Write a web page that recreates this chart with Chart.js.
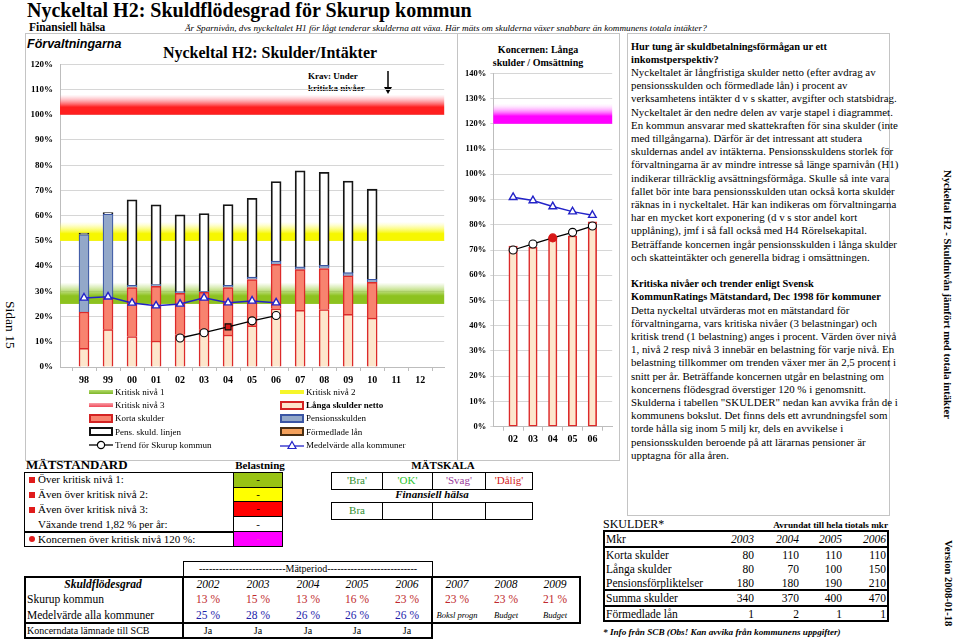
<!DOCTYPE html>
<html lang="sv"><head><meta charset="utf-8">
<script src="https://cdn.jsdelivr.net/npm/chart.js@4.4.1/dist/chart.umd.min.js"></script>
<style>
html,body{margin:0;padding:0;background:#fff}
body{width:960px;height:640px;position:relative;overflow:hidden;font-family:"Liberation Serif","Times New Roman",serif;color:#000}
.a{position:absolute;white-space:nowrap}
.box{position:absolute;border:1px solid #c4c4c4;box-sizing:border-box}
.sw{position:absolute;box-sizing:border-box}
.lg{position:absolute;font-size:9px;line-height:12px;white-space:nowrap}
.c{position:absolute;box-sizing:border-box;text-align:center;white-space:nowrap}
.r{position:absolute;white-space:nowrap;text-align:right}
</style></head><body>

<!-- header -->
<div class="a" style="left:27px;top:-1px;font:bold 20px/22px 'Liberation Serif'">Nyckeltal H2: Skuldflödesgrad för Skurup kommun</div>
<div class="a" style="left:29px;top:21px;font:bold 11.5px/13px 'Liberation Serif'">Finansiell hälsa</div>
<div class="a" style="left:185px;top:22px;font:italic 9.2px/12px 'Liberation Serif'">Är Sparnivån, dvs nyckeltalet H1 för lågt tenderar skulderna att växa. Här mäts om skulderna växer snabbare än kommunens totala intäkter?</div>

<div class="box" style="left:25px;top:33px;width:433px;height:428px"></div>
<div class="box" style="left:457px;top:33px;width:163px;height:428px"></div>
<div class="box" style="left:627px;top:33px;width:263px;height:483px"></div>

<div class="a" style="left:27px;top:37px;font:italic bold 12.5px/15px 'Liberation Sans',Arial,sans-serif">Förvaltningarna</div>
<div class="c" style="left:120px;top:44px;width:300px;font:bold 16px/18px 'Liberation Serif'">Nyckeltal H2: Skulder/Intäkter</div>
<div class="a" style="left:308px;top:70px;font:bold 9px/12px 'Liberation Serif'">Krav: Under<br>kritiska nivåer</div>
<svg class="a" style="left:383px;top:70px" width="10" height="26"><line x1="5" y1="1" x2="5" y2="19" stroke="#000" stroke-width="1.5"/><polygon points="1,17 9,17 5,24" fill="#000"/></svg>

<div class="a" style="left:30px;top:36px;width:420px;height:353px"><canvas id="mainChart"></canvas></div>

<!-- legend -->
<div class="sw" style="left:89px;top:390px;width:24px;height:4px;background:linear-gradient(#b5dc6a,#7db52a)"></div>
<div class="lg" style="left:115px;top:386px">Kritisk nivå 1</div>
<div class="sw" style="left:280px;top:390px;width:24px;height:4px;background:#f6f62a"></div>
<div class="lg" style="left:306px;top:386px">Kritisk nivå 2</div>
<div class="sw" style="left:89px;top:403px;width:24px;height:4px;background:linear-gradient(#f9a0a8,#ef4a5a)"></div>
<div class="lg" style="left:115px;top:399px">Kritisk nivå 3</div>
<div class="sw" style="left:280px;top:401px;width:24px;height:9px;background:#fde6cc;border:2px solid #d42323"></div>
<div class="lg" style="left:306px;top:399px;font-weight:bold">Långa skulder netto</div>
<div class="sw" style="left:89px;top:414px;width:24px;height:9px;background:#f8836f;border:2px solid #d42323"></div>
<div class="lg" style="left:115px;top:412px">Korta skulder</div>
<div class="sw" style="left:280px;top:414px;width:24px;height:9px;background:#93a8c9;border:2px solid #3a55a4"></div>
<div class="lg" style="left:306px;top:412px">Pensionsskulden</div>
<div class="sw" style="left:89px;top:427px;width:24px;height:9px;background:#fff;border:2px solid #111"></div>
<div class="lg" style="left:115px;top:425.5px">Pens. skuld. linjen</div>
<div class="sw" style="left:280px;top:427px;width:24px;height:9px;background:#f5a15c;border:2px solid #4a2e12"></div>
<div class="lg" style="left:306px;top:425.5px">Förmedlade lån</div>
<svg class="a" style="left:88px;top:440px" width="26" height="10"><line x1="1" y1="5" x2="25" y2="5" stroke="#000" stroke-width="1.3"/><circle cx="13" cy="5" r="3.6" fill="#fff" stroke="#000" stroke-width="1.2"/></svg>
<div class="lg" style="left:115px;top:439px">Trend för Skurup kommun</div>
<svg class="a" style="left:279px;top:440px" width="26" height="10"><line x1="1" y1="6" x2="25" y2="6" stroke="#2323c8" stroke-width="1.3"/><polygon points="13,1.5 17,8.5 9,8.5" fill="#fff" stroke="#2323c8" stroke-width="1.2"/></svg>
<div class="lg" style="left:306px;top:439px">Medelvärde alla kommuner</div>

<!-- koncern chart -->
<div class="c" style="left:478px;top:43px;width:120px;font:bold 10px/13px 'Liberation Serif'">Koncernen: Långa<br>skulder / Omsättning</div>
<div class="a" style="left:457px;top:36px;width:161px;height:411px"><canvas id="koncernChart"></canvas></div>

<!-- right text -->
<div class="a" style="left:631px;top:39.5px;font:10.9px/13.2px 'Liberation Serif'"><b style="font-size:10.4px">Hur tung är skuldbetalningsförmågan ur ett<br>inkomstperspektiv?</b><br>Nyckeltalet är långfristiga skulder netto (efter avdrag av<br>pensionsskulden och förmedlade lån) i procent av<br>verksamhetens intäkter d v s skatter, avgifter och statsbidrag.<br>Nyckeltalet är den nedre delen av varje stapel i diagrammet.<br>En kommun ansvarar med skattekraften för sina skulder (inte<br>med tillgångarna). Därför är det intressant att studera<br>skuldernas andel av intäkterna. Pensionsskuldens storlek för<br>förvaltningarna är av mindre intresse så länge sparnivån (H1)<br>indikerar tillräcklig avsättningsförmåga. Skulle så inte vara<br>fallet bör inte bara pensionsskulden utan också korta skulder<br>räknas in i nyckeltalet. Här kan indikeras om förvaltningarna<br>har en mycket kort exponering (d v s stor andel kort<br>upplåning), jmf i så fall också med H4 Rörelsekapital.<br>Beträffande koncernen ingår pensionsskulden i långa skulder<br>och skatteintäkter och generella bidrag i omsättningen.<br><br><b style="font-size:10.4px">Kritiska nivåer och trender enligt Svensk<br>KommunRatings Mätstandard, Dec 1998 för kommuner</b><br>Detta nyckeltal utvärderas mot en mätstandard för<br>förvaltningarna, vars kritiska nivåer (3 belastningar) och<br>kritisk trend (1 belastning) anges i procent. Värden över nivå<br>1, nivå 2 resp nivå 3 innebär en belastning för varje nivå. En<br>belastning tillkommer om trenden växer mer än 2,5 procent i<br>snitt per år. Beträffande koncernen utgår en belastning om<br>koncernens flödesgrad överstiger 120 % i genomsnitt.<br>Skulderna i tabellen "SKULDER" nedan kan avvika från de i<br>kommunens bokslut. Det finns dels ett avrundningsfel som<br>torde hålla sig inom 5 milj kr, dels en avvikelse i<br>pensionsskulden beroende på att lärarnas pensioner är<br>upptagna för alla åren.</div>

<!-- side texts -->
<div class="a" style="writing-mode:vertical-rl;left:1px;top:275px;height:100px;width:18px;text-align:center;font:13.5px/18px 'Liberation Serif'">Sidan 15</div>
<div class="a" style="writing-mode:vertical-rl;left:940px;top:150px;height:290px;width:16px;text-align:center;font:bold 10.7px/16px 'Liberation Serif'">Nyckeltal H2 - Skuldnivån jämfört med totala intäkter</div>
<div class="a" style="writing-mode:vertical-rl;left:940px;top:533px;height:100px;width:16px;text-align:center;font:bold 10.6px/16px 'Liberation Serif'">Version 2008-01-18</div>

<!-- MÄTSTANDARD -->
<div class="a" style="left:26px;top:457px;font:bold 13px/16px 'Liberation Serif'">MÄTSTANDARD</div>
<div class="c" style="left:230px;top:458px;width:60px;font:bold 11px/14px 'Liberation Serif'">Belastning</div>
<div class="c" style="left:393px;top:458px;width:100px;font:bold 11px/14px 'Liberation Serif'">MÄTSKALA</div>

<div class="sw" style="left:24px;top:472px;width:259px;height:75px;border:1.5px solid #000"></div>
<div class="sw" style="left:24px;top:531px;width:259px;height:1.5px;background:#000"></div>
<div class="c" style="left:233px;top:472px;width:50px;height:16px;border:1.5px solid #000;background:#99c314;font:11px/13px 'Liberation Serif'">-</div>
<div class="c" style="left:233px;top:486.5px;width:50px;height:16px;border:1.5px solid #000;background:#ffff00;font:11px/13px 'Liberation Serif'">-</div>
<div class="c" style="left:233px;top:501px;width:50px;height:16px;border:1.5px solid #000;background:#ff0000;font:11px/13px 'Liberation Serif'">-</div>
<div class="c" style="left:233px;top:515.5px;width:50px;height:17px;border:1.5px solid #000;background:#fff;font:11px/14px 'Liberation Serif'">-</div>
<div class="c" style="left:233px;top:531px;width:50px;height:16px;border:1.5px solid #000;background:#ff00ff;color:#f040c0;font:11px/13px 'Liberation Serif'">-</div>
<div class="sw" style="left:29px;top:477px;width:6px;height:6px;background:#e01b1b"></div>
<div class="a" style="left:38px;top:473px;font:11px/13px 'Liberation Serif'">Över kritisk nivå 1:</div>
<div class="sw" style="left:29px;top:492px;width:6px;height:6px;background:#e01b1b"></div>
<div class="a" style="left:38px;top:488px;font:11px/13px 'Liberation Serif'">Även över kritisk nivå 2:</div>
<div class="sw" style="left:29px;top:507px;width:6px;height:6px;background:#e01b1b"></div>
<div class="a" style="left:38px;top:503px;font:11px/13px 'Liberation Serif'">Även över kritisk nivå 3:</div>
<div class="a" style="left:38px;top:517.5px;font:11px/13px 'Liberation Serif'">Växande trend 1,82 % per år:</div>
<div class="sw" style="left:29px;top:536px;width:6px;height:6px;border-radius:50%;background:#e01b1b"></div>
<div class="a" style="left:38px;top:532.5px;font:11px/13px 'Liberation Serif'">Koncernen över kritisk nivå 120 %:</div>

<!-- MÄTSKALA -->
<div class="c" style="left:331px;top:472px;width:52px;height:18px;border:1.2px solid #000;color:#2f8f2f;font:11px/15px 'Liberation Serif'">'Bra'</div>
<div class="c" style="left:382px;top:472px;width:51px;height:18px;border:1.2px solid #000;color:#2ec52e;font:11px/15px 'Liberation Serif'">'OK'</div>
<div class="c" style="left:432px;top:472px;width:54px;height:18px;border:1.2px solid #000;color:#9b3a9b;font:11px/15px 'Liberation Serif'">'Svag'</div>
<div class="c" style="left:485px;top:472px;width:48px;height:18px;border:1.2px solid #000;color:#d42020;font:11px/15px 'Liberation Serif'">'Dålig'</div>
<div class="c" style="left:382px;top:487px;width:100px;font:italic bold 11px/14px 'Liberation Serif'">Finansiell hälsa</div>
<div class="c" style="left:331px;top:502px;width:52px;height:18px;border:1.2px solid #000;color:#2f8f2f;font:11px/15px 'Liberation Serif'">Bra</div>
<div class="c" style="left:382px;top:502px;width:51px;height:18px;border:1.2px solid #000"></div>
<div class="c" style="left:432px;top:502px;width:54px;height:18px;border:1.2px solid #000"></div>
<div class="c" style="left:485px;top:502px;width:48px;height:18px;border:1.2px solid #000"></div>

<!-- Skuldflödesgrad table -->
<div class="c" style="left:183px;top:561px;width:250px;height:16px;border:1.2px solid #000;overflow:hidden;font:10px/13px 'Liberation Serif'">--------------------------Mätperiod---------------------------</div>
<div class="sw" style="left:24px;top:576px;width:557px;height:48px;border:2px solid #000"></div>
<div class="sw" style="left:24px;top:622px;width:409px;height:17px;border:2px solid #000"></div>
<div class="sw" style="left:182px;top:576px;width:1.5px;height:62px;background:#000"></div>
<div class="sw" style="left:431px;top:576px;width:2px;height:62px;background:#000"></div>
<div id="tbl"></div>

<!-- SKULDER table -->
<div class="a" style="left:603px;top:517px;font:12px/14px 'Liberation Serif'">SKULDER*</div>
<div class="r" style="left:700px;width:188px;top:519px;font:bold 9.2px/12px 'Liberation Serif'">Avrundat till hela tiotals mkr</div>
<div class="sw" style="left:603px;top:530px;width:286px;height:18px;border:2px solid #000"></div>
<div class="sw" style="left:603px;top:546px;width:286px;height:45px;border:2px solid #000"></div>
<div class="sw" style="left:603px;top:589px;width:286px;height:18px;border:2px solid #000"></div>
<div class="sw" style="left:603px;top:605px;width:286px;height:17px;border:2px solid #000"></div>
<div id="skulder"></div>
<div class="a" style="left:603px;top:626px;font:italic bold 9.2px/12px 'Liberation Serif'">* Info från SCB (Obs! Kan avvika från kommunens uppgifter)</div>

<script>
// ---------- data: main chart (Förvaltningarna) ----------
const mainCategories = ['', '98','99','00','01','02','03','04','05','06','07','08','09','10','11','12',''];
const langaSkulderNetto = [null, 7.4, 14.8, 12.1, 10.3, 12.8, 14.8, 12.7, 16.3, 23.1, 22.5, 22.8, 20.9, 19.4, null, null, null];
const kortaSkulder      = [null, 14.4, 12.7, 19.4, 21.7, 16.4, 14.8, 18.8, 18.4, 17.6, 16.1, 16.2, 15.2, 14.2, null, null, null];
const pensionsskulden   = [null, 30.7, 33.1, 0.9, 0.7, 0.7, 0.4, 0.9, 0.9, 1.3, 1.1, 1.3, 1.3, 1.2, null, null, null];
const pensSkuldLinjen   = [null, 0.6, 0.6, 33.9, 31.6, 30.4, 30.8, 32.0, 31.3, 31.5, 38.1, 36.9, 36.3, 35.7, null, null, null];
const medelvardeAlla    = [null, 27.4, 27.8, 25.4, 24.3, 25.0, 27.4, 25.5, 26.2, 25.5, null, null, null, null, null, null, null];
const trendSkurup       = [null, null, null, null, null, 11.5, 13.6, 15.9, 18.3, 20.4, null, null, null, null, null, null, null];
const kritiskaNivaer    = [25, 50, 100];

// ---------- data: koncern chart ----------
const koncernCategories = ['', '02','03','04','05','06',''];
const koncernLangaSkulder = [null, 71.6, 71.1, 74.9, 75.6, 81.2, null];
const koncernMedelvarde   = [null, 90.9, 89.6, 87.2, 85.2, 83.8, null];
const koncernTrend        = [null, 70.0, 72.4, 74.8, 77.0, 79.5, null];
const koncernNiva         = [120];

// ---------- tables ----------
const tabellAr = ['2002','2003','2004','2005','2006','2007','2008','2009'];
const skurupKommun = ['13 %','15 %','13 %','16 %','23 %','23 %','23 %','21 %'];
const medelAlla = ['25 %','28 %','26 %','26 %','26 %','Boksl progn','Budget','Budget'];
const koncerndataSCB = ['Ja','Ja','Ja','Ja','Ja'];
const skulderAr = ['2003','2004','2005','2006'];
const skulderRader = ['Mkr','Korta skulder','Långa skulder','Pensionsförpliktelser','Summa skulder','Förmedlade lån'];
const skulderKorta = [80, 110, 110, 110];
const skulderLanga = [80, 70, 100, 150];
const skulderPension = [180, 180, 190, 210];
const skulderSumma = [340, 370, 400, 470];
const skulderFormedlade = [1, 2, 1, 1];

function el(parent, cls, style, html){const d=document.createElement('div');d.className=cls;d.style.cssText=style;d.innerHTML=html;parent.appendChild(d);return d;}
const tbl = document.getElementById('tbl');
const colCenters = [208,258,308,357,407,457,506,555];
el(tbl,'c','left:24px;width:158px;top:577px;font:italic bold 11.5px/14px "Liberation Serif"','Skuldflödesgrad');
el(tbl,'a','left:27px;top:592px;font:11.5px/14px "Liberation Serif"','Skurup kommun');
el(tbl,'a','left:27px;top:607.5px;font:11.5px/14px "Liberation Serif"','Medelvärde alla kommuner');
el(tbl,'a','left:27px;top:624px;font:10px/13px "Liberation Serif"','Koncerndata lämnade till SCB');
tabellAr.forEach((y,i)=>{
  el(tbl,'c',`left:${colCenters[i]-25}px;width:50px;top:577px;font:italic 11.5px/14px "Liberation Serif"`,y);
  el(tbl,'c',`left:${colCenters[i]-25}px;width:50px;top:592px;color:#c0282d;font:11.5px/14px "Liberation Serif"`,skurupKommun[i]);
  const it = i>=5;
  el(tbl,'c',`left:${colCenters[i]-25}px;width:50px;top:${it?609:607.5}px;color:${it?'#000':'#2222aa'};font:${it?'italic 8.5px/12px':'11.5px/14px'} "Liberation Serif"`,medelAlla[i]);
  if(i<5) el(tbl,'c',`left:${colCenters[i]-25}px;width:50px;top:624px;font:10px/13px "Liberation Serif"`,koncerndataSCB[i]);
});

const sk = document.getElementById('skulder');
const rowTops = [532, 547.5, 561.5, 575.5, 591, 606.5];
const skRight = [754, 799, 842, 886];
const skData = [skulderKorta, skulderLanga, skulderPension, skulderSumma, skulderFormedlade];
skulderRader.forEach((r,i)=>{
  el(sk,'a',`left:606px;top:${rowTops[i]}px;font:11.5px/14px "Liberation Serif"`,r);
});
skulderAr.forEach((y,j)=>{
  el(sk,'r',`left:${skRight[j]-50}px;width:50px;top:${rowTops[0]}px;font:italic 11.5px/14px "Liberation Serif"`,y);
  skData.forEach((arr,i)=>{
    el(sk,'r',`left:${skRight[j]-50}px;width:50px;top:${rowTops[i+1]}px;font:11.5px/14px "Liberation Serif"`,String(arr[j]));
  });
});

// ---------- Chart.js ----------
Chart.defaults.font.family = "'Liberation Serif','Times New Roman',serif";
Chart.defaults.color = '#000';

const bandPlugin = {
  id: 'bands',
  beforeDatasetsDraw(chart, args, opts) {
    const {ctx, chartArea: ca} = chart;
    const y = chart.scales.y;
    (opts.bands || []).forEach(b => {
      const y0 = y.getPixelForValue(b.level);
      const y1 = y.getPixelForValue(b.level + b.fade);
      const g = ctx.createLinearGradient(0, y0, 0, y1);
      g.addColorStop(0, b.color); g.addColorStop(0.38, b.color); g.addColorStop(1, b.clear);
      ctx.save(); ctx.fillStyle = g; ctx.fillRect(ca.left, y1, ca.right - ca.left, y0 - y1); ctx.restore();
    });
  }
};

const bandColors = [
  {color:'#8dc21f', clear:'rgba(170,215,90,0)', fade:8.5},
  {color:'#f7f700', clear:'rgba(255,255,120,0)', fade:7.5},
  {color:'#ff1f1f', clear:'rgba(255,140,160,0)', fade:8}
];

const yTickFont = {family:"'Liberation Serif'", size: 9, weight:'bold'};

new Chart(document.getElementById('mainChart'), {
  data: {
    labels: mainCategories,
    datasets: [
      {type:'line', label:'Medelvärde alla kommuner', data: medelvardeAlla, stack:'m', order:0,
       borderColor:'#2323c8', borderWidth:1.5, pointStyle:'triangle', pointRadius:4.4, pointBackgroundColor:'#fff', pointBorderColor:'#2323c8', pointBorderWidth:1.4, spanGaps:false},
      {type:'line', label:'Trend för Skurup kommun', data: trendSkurup, stack:'t', order:0,
       borderColor:'#000', borderWidth:1.3,
       pointStyle: trendSkurup.map((v,i)=> i===7 ? 'rect' : 'circle'),
       pointRadius: trendSkurup.map((v,i)=> i===7 ? 4.2 : 4),
       pointBackgroundColor: trendSkurup.map((v,i)=> i===7 ? '#d81818' : '#fff'),
       pointBorderColor:'#000', pointBorderWidth:1.1},
      {type:'bar', label:'Långa skulder netto', data: langaSkulderNetto, stack:'s', order:1,
       backgroundColor:'#fde6cc', borderColor:'#dc2a2a', borderWidth:1.5, barThickness:10},
      {type:'bar', label:'Korta skulder', data: kortaSkulder, stack:'s', order:1,
       backgroundColor:'#f8836f', borderColor:'#dc2a2a', borderWidth:1.5, barThickness:10},
      {type:'bar', label:'Pensionsskulden', data: pensionsskulden, stack:'s', order:1,
       backgroundColor:'#93a8c9', borderColor:'#3a55a4', borderWidth:1.2, barThickness:10},
      {type:'bar', label:'Pens. skuld. linjen', data: pensSkuldLinjen, stack:'s', order:1,
       backgroundColor:'#ffffff', borderColor:'#151515', borderWidth:1.8, barThickness:10}
    ]
  },
  options: {
    responsive:true, maintainAspectRatio:false, animation:false, events:[],
    layout:{padding:{top:28.3, right:0, left:0, bottom:0}},
    plugins:{legend:{display:false}, tooltip:{enabled:false},
      bands:{bands: kritiskaNivaer.map((lv,i)=>Object.assign({level:lv}, bandColors[i]))}},
    scales:{
      x:{stacked:true, offset:false,
         grid:{display:true, drawOnChartArea:false, drawTicks:true, tickLength:4, color:'#bdbdbd'},
         border:{color:'#bdbdbd'},
         ticks:{autoSkip:false, maxRotation:0, padding:3, font:{size:10, weight:'bold'}},
         afterFit(s){s.height = 22;}},
      y:{stacked:true, min:0, max:120,
         grid:{color:'#d6d6d6', drawTicks:false},
         border:{color:'#bdbdbd'},
         ticks:{stepSize:10, padding:7, font:yTickFont, callback:v=>v+'%'},
         afterFit(s){s.width = 30;}}
    }
  },
  plugins:[bandPlugin]
});

new Chart(document.getElementById('koncernChart'), {
  data: {
    labels: koncernCategories,
    datasets: [
      {type:'line', label:'Medelvärde', data: koncernMedelvarde, order:0,
       borderColor:'#2323c8', borderWidth:1.5, pointStyle:'triangle', pointRadius:4.4, pointBackgroundColor:'#fff', pointBorderColor:'#2323c8', pointBorderWidth:1.4},
      {type:'line', label:'Trend', data: koncernTrend, order:0,
       borderColor:'#000', borderWidth:1.3, pointStyle:'circle', pointRadius:4,
       pointBackgroundColor: koncernTrend.map((v,i)=> i===3 ? '#d81818' : '#fff'),
       pointBorderColor: koncernTrend.map((v,i)=> i===3 ? '#d81818' : '#000'), pointBorderWidth:1.1},
      {type:'bar', label:'Långa skulder', data: koncernLangaSkulder, order:1,
       backgroundColor:'#fde6cc', borderColor:'#dc2a2a', borderWidth:1.6, barThickness:8.5, borderSkipped:false}
    ]
  },
  options: {
    responsive:true, maintainAspectRatio:false, animation:false, events:[],
    layout:{padding:{top:37.3, right:0, left:0, bottom:0}},
    plugins:{legend:{display:false}, tooltip:{enabled:false},
      bands:{bands: koncernNiva.map(lv=>({level:lv, fade:8, color:'#ff00ff', clear:'rgba(255,200,255,0)'}))}},
    scales:{
      x:{offset:false,
         grid:{display:true, drawOnChartArea:false, drawTicks:true, tickLength:4, color:'#bdbdbd'},
         border:{color:'#bdbdbd'},
         ticks:{autoSkip:false, maxRotation:0, padding:3, font:{size:10, weight:'bold'}},
         afterFit(s){s.height = 20.3;}},
      y:{min:0, max:140,
         grid:{color:'#d6d6d6', drawTicks:true, tickLength:3},
         border:{color:'#bdbdbd'},
         ticks:{stepSize:10, padding:4, font:{size:8.5, weight:'bold'}, callback:v=>v+'%'},
         afterFit(s){s.width = 36.3;}}
    }
  },
  plugins:[bandPlugin]
});
</script>
</body></html>
